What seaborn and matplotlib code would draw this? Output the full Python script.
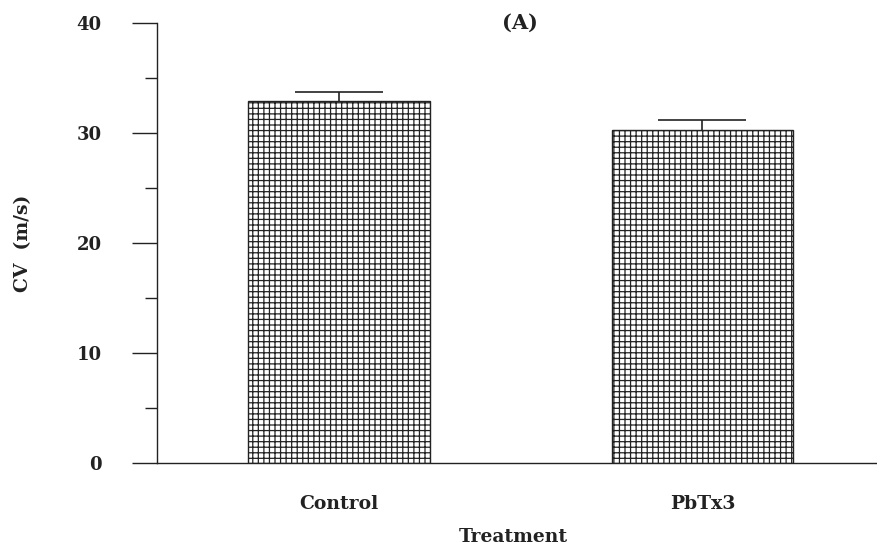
import numpy as np
import pandas as pd
import matplotlib
matplotlib.use("Agg")
import matplotlib.pyplot as plt
import seaborn as sns
from matplotlib.ticker import MultipleLocator

# values
treatments = ["Control", "PbTx3"]
cv_mean = [32.9, 30.3]
cv_err = [0.8, 0.9]

df = pd.DataFrame({"Treatment": treatments, "CV": cv_mean})

sns.set_style("white")
plt.rcParams["font.family"] = ["DejaVu Serif"]
plt.rcParams["hatch.linewidth"] = 0.9
plt.rcParams["hatch.color"] = "#333333"

fig = plt.figure(figsize=(8.77, 5.51), dpi=100)
ax = fig.add_axes([157 / 877, 1 - 463 / 551, 1 - 157 / 877, 440 / 551])

# error bars first, so the bars hide the lower half
ax.errorbar(range(len(treatments)), cv_mean, yerr=cv_err, fmt="none",
            ecolor="#222222", elinewidth=1.2, capsize=32, capthick=1.2, zorder=1)

sns.barplot(data=df, x="Treatment", y="CV", order=treatments, color="white",
            edgecolor="#222222", linewidth=1.0, hatch="+++", width=0.5,
            errorbar=None, saturation=1, ax=ax, zorder=2)

ax.set_xlim(-0.5, 1.48)
ax.set_ylim(0, 40)

# --------------------------------------------------------------
# AXES STYLE
# --------------------------------------------------------------
for side in ["top", "right"]:
    ax.spines[side].set_visible(False)
for side in ["left", "bottom"]:
    ax.spines[side].set_color("#222222")
    ax.spines[side].set_linewidth(1.0)

ax.yaxis.set_major_locator(MultipleLocator(10))
ax.yaxis.set_minor_locator(MultipleLocator(5))
ax.tick_params(axis="y", which="major", direction="out", length=18, width=1.0,
               color="#222222", pad=22, labelsize=13)
ax.tick_params(axis="y", which="minor", direction="out", length=8.5, width=1.0,
               color="#222222")
ax.tick_params(axis="x", which="both", length=0, pad=23, labelsize=13.5)
ax.tick_params(left=True, which="both")

for lbl in ax.get_xticklabels() + ax.get_yticklabels():
    lbl.set_fontweight("bold")
    lbl.set_color("#222222")

ax.set_xlabel("Treatment", fontsize=13.5, fontweight="bold", color="#222222")
ax.set_ylabel("CV  (m/s)", fontsize=13.5, fontweight="bold", color="#222222")
ax.xaxis.set_label_coords((513 - 157) / 720, (463 - 528) / 440)
ax.yaxis.set_label_coords((32 - 157) / 720, 0.5)

fig.text(520 / 877, 1 - 23 / 551, "(A)", ha="center", va="center",
         fontsize=15, fontweight="bold", color="#222222")

fig.savefig("out.png", dpi=100)
